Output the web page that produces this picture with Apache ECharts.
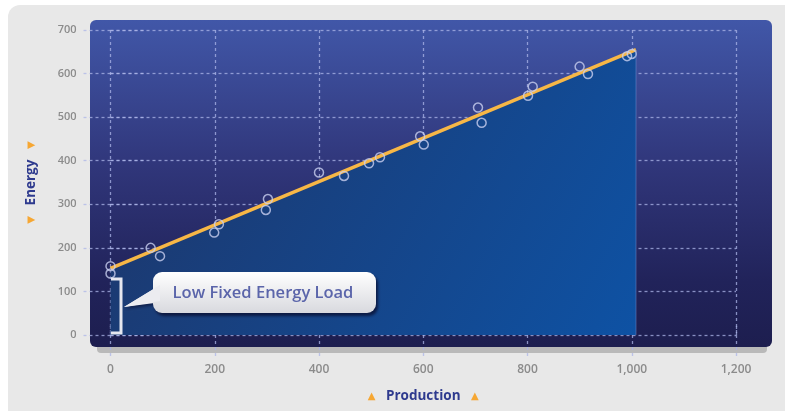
<!DOCTYPE html>
<html><head><meta charset="utf-8">
<script src="https://cdn.jsdelivr.net/npm/echarts@6/dist/echarts.min.js"></script>
<style>html,body{margin:0;padding:0;background:#fff;}#c{width:785px;height:411px;}</style>
</head><body><div id="c"></div>
<script>
// ---- data ----
const xTicks = [0, 200, 400, 600, 800, 1000, 1200];
const yTicks = [0, 100, 200, 300, 400, 500, 600, 700];
const productionObs = [0, 0, 77, 95, 199, 208, 298, 302, 400, 448, 496, 517, 594, 601, 705, 712, 801, 810, 900, 916, 991, 1000];
const energyObs     = [158, 141, 200, 181, 235, 254, 287, 312, 373, 365, 394, 408, 456, 437, 522, 487, 549, 570, 616, 599, 640, 645];
const fitProduction = [0, 1008];
const fitEnergy     = [153, 655];
const calloutText = 'Low Fixed Energy Load';

const gridDash = { color: 'rgba(172,182,232,0.75)', type: [3, 3], width: 1.3 };
const labelFont = { color: '#8b8b8b', fontFamily: 'Open Sans', fontWeight: 600 };
const nameStyle = {
  color: '#2e3a8e', fontFamily: 'Open Sans', fontWeight: 'bold', fontSize: 13.5,
  rich: { t: { color: '#f6a733', fontSize: 10, fontFamily: 'DejaVu Sans' } }
};

const chart = echarts.init(document.getElementById('c'), null, { renderer: 'canvas' });
chart.setOption({
  animation: false,
  backgroundColor: '#ffffff',
  grid: { left: 110.5, right: 49, top: 30, bottom: 76 },
  xAxis: [{
    type: 'value', min: xTicks[0], max: xTicks[xTicks.length - 1], interval: 200,
    axisLine: { show: false },
    axisTick: { show: true, length: 22, lineStyle: gridDash },
    splitLine: { show: true, lineStyle: gridDash },
    axisLabel: Object.assign({ fontSize: 12, margin: 29,
      formatter: v => v.toLocaleString('en-US') }, labelFont),
    name: '{t|▲}   Production   {t|▲}', nameLocation: 'middle', nameGap: 54,
    nameTextStyle: nameStyle
  }, {
    type: 'value', position: 'top', min: xTicks[0], max: xTicks[xTicks.length - 1], interval: 200,
    axisLine: { show: false }, axisLabel: { show: false }, splitLine: { show: false },
    axisTick: { show: true, length: 10, lineStyle: gridDash }
  }],
  yAxis: [{
    type: 'value', min: yTicks[0], max: yTicks[yTicks.length - 1], interval: 100,
    axisLine: { show: false },
    axisTick: { show: true, length: 30, lineStyle: gridDash },
    splitLine: { show: true, lineStyle: gridDash },
    axisLabel: Object.assign({ fontSize: 11, margin: 34 }, labelFont),
    name: '{t|▼}   Energy   {t|▼}', nameLocation: 'middle', nameGap: 72,
    nameTextStyle: nameStyle
  }, {
    type: 'value', position: 'right', min: yTicks[0], max: yTicks[yTicks.length - 1], interval: 100,
    axisLine: { show: false }, axisLabel: { show: false }, splitLine: { show: false },
    axisTick: { show: true, length: 36, lineStyle: gridDash }
  }],
  graphic: [
    { type: 'rect', z: -100, silent: true, shape: { x: 8, y: 5, width: 800, height: 420, r: 12 }, style: { fill: '#e8e8e8' } },
    { type: 'rect', z: -99, silent: true, shape: { x: 97, y: 339, width: 670, height: 14, r: 4 }, style: { fill: '#b9b9b9' } },
    { type: 'rect', z: -98, silent: true, shape: { x: 90, y: 20, width: 682, height: 327, r: 6 },
      style: { fill: { type: 'linear', x: 0, y: 0, x2: 0, y2: 1, colorStops: [
        { offset: 0, color: '#4157a8' }, { offset: 0.45, color: '#30367a' },
        { offset: 0.8, color: '#21235a' }, { offset: 1, color: '#1d1e4f' }] } } },
    { type: 'line', z: 50, silent: true, shape: { x1: 636, y1: 50, x2: 636, y2: 335 },
      style: { stroke: 'rgba(120,150,220,0.45)', lineWidth: 1 } },
    { type: 'polyline', z: 50, silent: true, shape: { points: [[111, 279], [121, 279], [121, 333], [111, 333]] },
      style: { stroke: '#e6e7ef', lineWidth: 3, fill: null } },
    { type: 'polygon', z: 60, silent: true, shape: { points: [[162, 284], [124, 307], [162, 302]] },
      style: { fill: '#eeeef2', shadowColor: 'rgba(8,12,45,0.6)', shadowBlur: 3, shadowOffsetX: 1, shadowOffsetY: 2 } },
    { type: 'rect', z: 61, silent: true, shape: { x: 153, y: 272, width: 223, height: 41, r: 9 },
      style: { fill: { type: 'linear', x: 0, y: 0, x2: 0, y2: 1, colorStops: [
        { offset: 0, color: '#ffffff' }, { offset: 1, color: '#d8d9de' }] },
        shadowColor: 'rgba(8,12,45,0.75)', shadowBlur: 3, shadowOffsetX: 2, shadowOffsetY: 3 } },
    { type: 'polygon', z: 62, silent: true, shape: { points: [[160, 285], [124, 307], [160, 301]] },
      style: { fill: '#ececf0' } },
    { type: 'text', z: 63, silent: true, style: { text: calloutText, x: 263, y: 293, textAlign: 'center', textVerticalAlign: 'middle',
      fill: '#5b65aa', font: '600 16.5px "Open Sans"' } }
  ],
  series: [{
    type: 'line', data: fitProduction.map((x, i) => [x, fitEnergy[i]]),
    showSymbol: false, z: 3,
    lineStyle: { color: '#f7b746', width: 3.5 },
    areaStyle: { opacity: 1, color: { type: 'linear', x: 0, y: 0, x2: 1, y2: 1, colorStops: [
      { offset: 0, color: '#1e3568' }, { offset: 1, color: '#0e52a4' }] } }
  }, {
    type: 'scatter', data: productionObs.map((x, i) => [x, energyObs[i]]), z: 4,
    symbol: 'circle', symbolSize: 9,
    itemStyle: { color: 'rgba(0,0,0,0)', borderColor: '#c8ceef', borderWidth: 1.5 }
  }]
});
</script></body></html>
